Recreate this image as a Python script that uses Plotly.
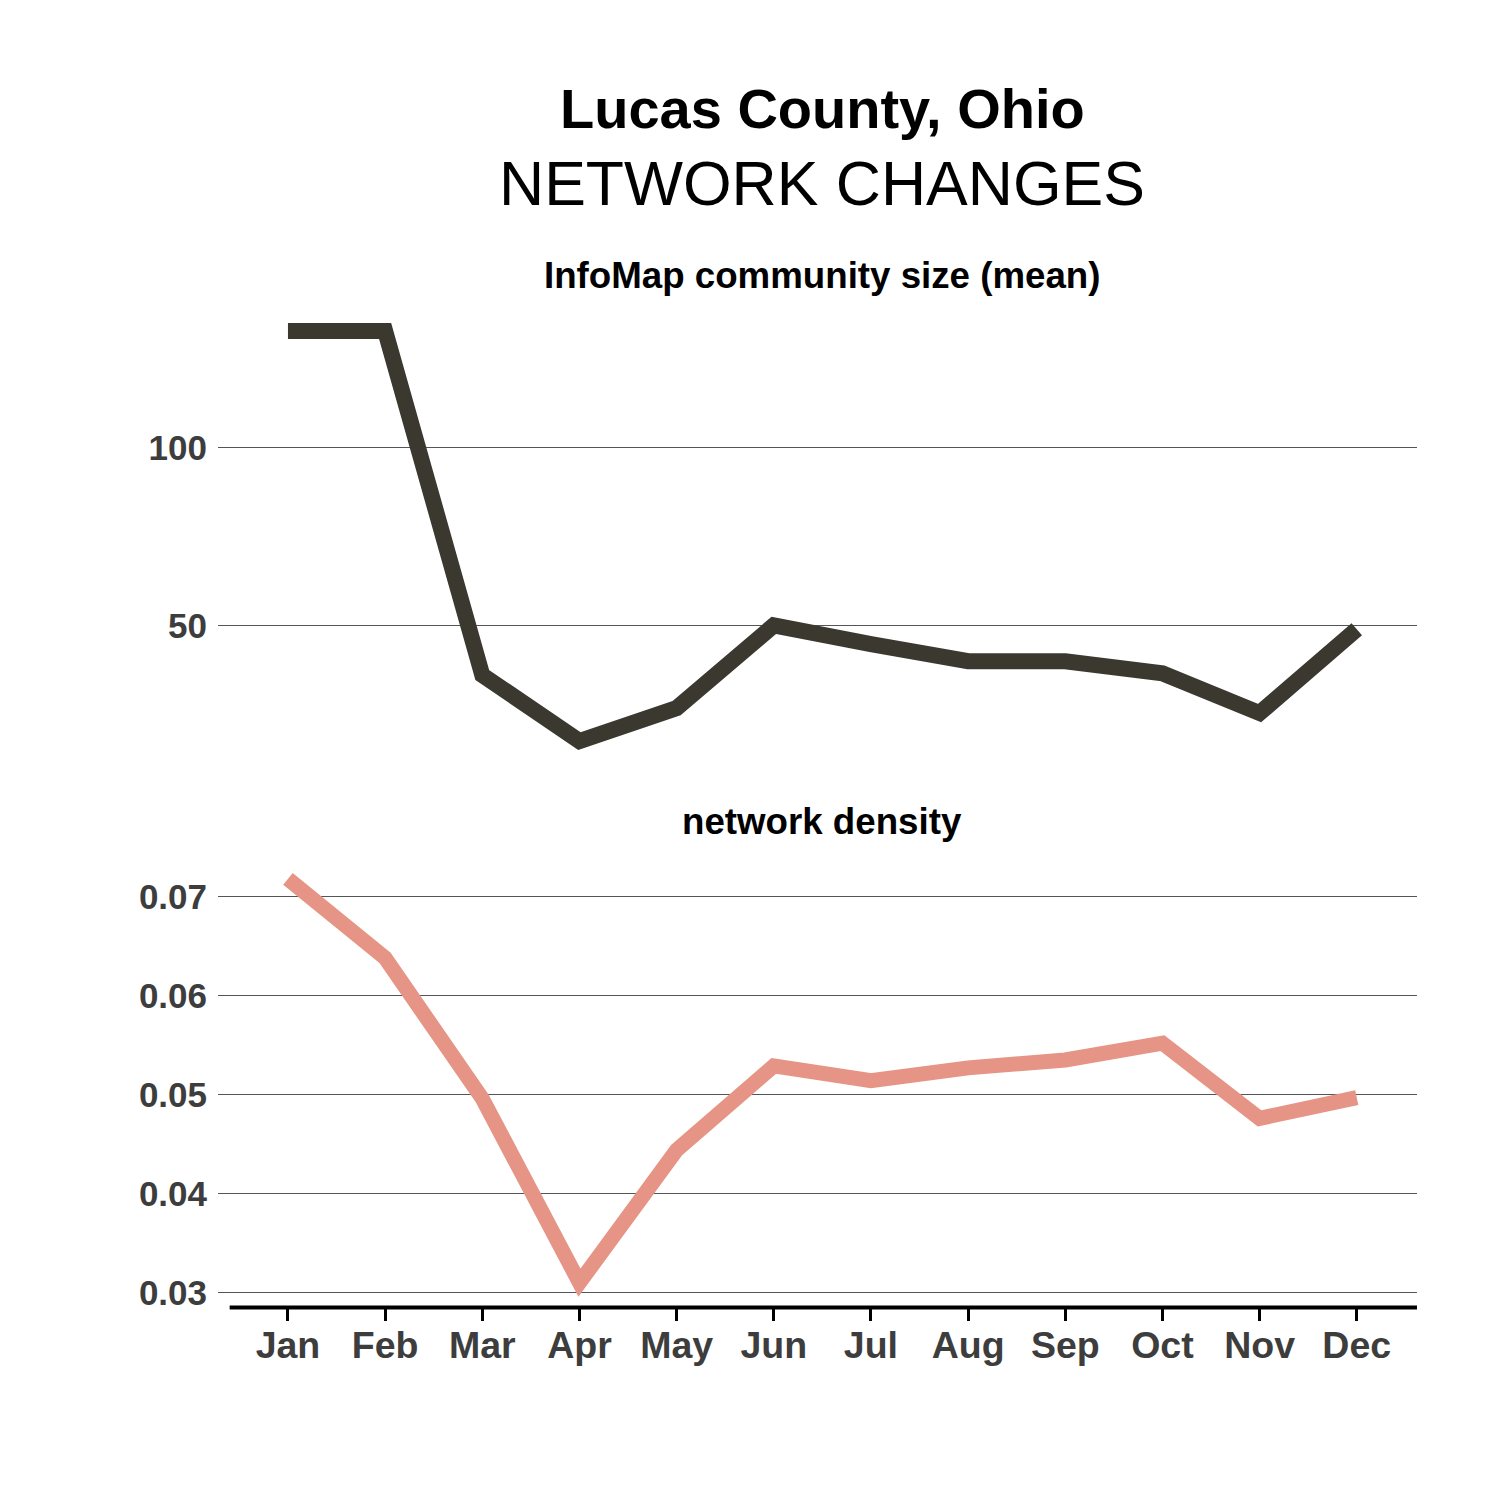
import plotly.graph_objects as go

months = ["Jan", "Feb", "Mar", "Apr", "May", "Jun", "Jul", "Aug", "Sep", "Oct", "Nov", "Dec"]
community_size = [132.9, 132.9, 36.0, 17.4, 26.7, 50.0, 44.7, 39.9, 39.9, 36.5, 25.3, 48.9]
density = [0.0718, 0.0638, 0.0496, 0.0310, 0.0444, 0.0529, 0.0514, 0.0527, 0.0535, 0.0552, 0.0476, 0.0497]

top_ticks = [50, 100]
bottom_ticks = [0.03, 0.04, 0.05, 0.06, 0.07]

W = H = 1500
OFFX = 8  # page offset of the plot div
OFFY = 5
FONT = "Liberation Sans, Arial, sans-serif"
DARK = "#3b3830"
SALMON = "#e59485"

def py(y):
    return 1 - (y - OFFY) / H

def pxx(x):
    return (x - OFFX) / W

fig = go.Figure()
xidx = list(range(len(months)))
fig.add_trace(go.Scatter(x=xidx, y=community_size, mode="lines",
                         line=dict(color=DARK, width=16), xaxis="x", yaxis="y",
                         showlegend=False, hoverinfo="skip"))
fig.add_trace(go.Scatter(x=xidx, y=density, mode="lines",
                         line=dict(color=SALMON, width=15), xaxis="x2", yaxis="y2",
                         showlegend=False, hoverinfo="skip"))

xdom = [pxx(218), pxx(1417)]
xrange = [-0.72, 11.62]

grid = dict(showgrid=True, gridcolor="#555555", gridwidth=1, zeroline=False,
            showline=False, ticks="",
            tickfont=dict(family=FONT, size=35, color="#3d3d3d", weight="bold"),
            ticklabelstandoff=10)

fig.update_layout(
    width=W, height=H,
    margin=dict(l=0, r=0, t=0, b=0),
    paper_bgcolor="white", plot_bgcolor="white",
    xaxis=dict(domain=xdom, range=xrange, anchor="y", showticklabels=False,
               showgrid=False, zeroline=False, ticks="", showline=False),
    yaxis=dict(domain=[py(761), py(308)], range=[11.52, 138.76], anchor="x",
               tickvals=top_ticks, ticktext=[str(v) for v in top_ticks], **grid),
    xaxis2=dict(domain=xdom, range=xrange, anchor="y2",
                tickvals=xidx, ticktext=months,
                showgrid=False, zeroline=False, showline=False,
                ticks="outside", ticklen=12, tickwidth=3, tickcolor="black",
                ticklabelstandoff=-8,
                tickfont=dict(family=FONT, size=37.5, color="#3d3d3d", weight="bold")),
    yaxis2=dict(domain=[py(1308), py(858)], range=[0.02849, 0.07383], anchor="x2",
                tickvals=bottom_ticks, ticktext=[f"{v:.2f}" for v in bottom_ticks], **grid),
)

# bottom axis line
fig.add_shape(type="line", xref="x2", yref="paper", x0=-0.6, x1=11.62,
              y0=py(1308), y1=py(1308), line=dict(color="black", width=4))

cx = pxx(822)
fig.add_annotation(text="<b>Lucas County, Ohio</b>", x=cx, y=py(106), xref="paper", yref="paper",
                   showarrow=False, font=dict(family=FONT, size=56, color="black"),
                   xanchor="center", yanchor="middle")
fig.add_annotation(text="NETWORK CHANGES", x=cx, y=py(180), xref="paper", yref="paper",
                   showarrow=False, font=dict(family=FONT, size=62.5, color="black"),
                   xanchor="center", yanchor="middle")
fig.add_annotation(text="<b>InfoMap community size (mean)</b>", x=cx, y=py(273), xref="paper",
                   yref="paper", showarrow=False, font=dict(family=FONT, size=36.7, color="black"),
                   xanchor="center", yanchor="middle")
fig.add_annotation(text="<b>network density</b>", x=cx, y=py(821), xref="paper",
                   yref="paper", showarrow=False, font=dict(family=FONT, size=36.7, color="black"),
                   xanchor="center", yanchor="middle")

fig.write_html("out.html")
